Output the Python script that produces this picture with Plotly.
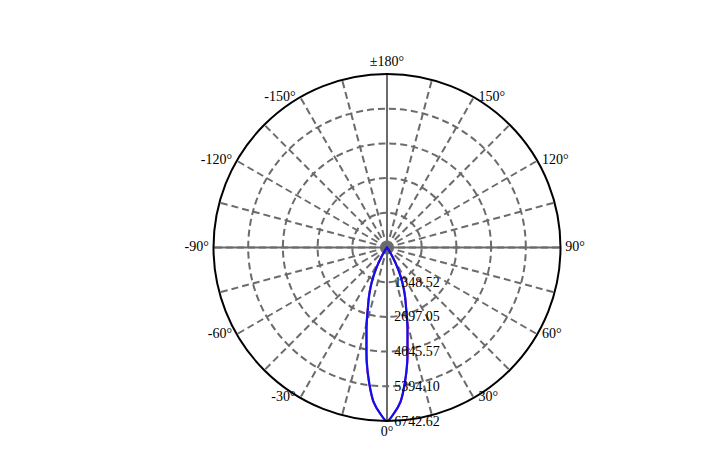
import plotly.graph_objects as go

# Polar angles (deg) and luminous intensity values
angles = [-180, -90, -45, -40, -37.5, -35, -32.5, -30, -27.5, -25, -22.5, -20, -17.5, -15,
          -12.5, -10, -7.5, -5, -2.5, 0, 2.5, 5, 7.5, 10, 12.5, 15, 17.5, 20, 22.5, 25,
          27.5, 30, 32.5, 35, 37.5, 40, 45, 90, 180]
c0_values = [0, 0, 0, 12, 45, 120, 260, 520, 900, 1290, 1690, 2080, 2490, 3080,
             3700, 4550, 5320, 6030, 6440, 6742.62, 6440, 6030, 5320, 4550, 3700, 3080, 2490, 2080, 1690, 1290,
             900, 520, 260, 120, 45, 12, 0, 0, 0]
c90_values = [0, 0, 0, 10, 40, 110, 250, 500, 880, 1270, 1660, 2050, 2460, 3050,
              3670, 4520, 5300, 6010, 6430, 6742.62, 6430, 6010, 5300, 4520, 3670, 3050, 2460, 2050, 1660, 1270,
              880, 500, 250, 110, 40, 10, 0, 0, 0]

r_max = 6742.62
radial_ticks = [1348.52, 2697.05, 4045.57, 5394.10, 6742.62]
radial_labels = ["1348.52", "2697.05", "4045.57", "5394.10", "6742.62"]

grid_angles = list(range(0, 360, 15))
label_angles = [0, 30, 60, 90, 120, 150, 180, 210, 240, 270, 300, 330]
label_texts = ["0°", "30°", "60°", "90°", "120°", "150°", "±180°",
               "-150°", "-120°", "-90°", "-60°", "-30°"]

main_axes = [0, 90]  # solid diameters

font = dict(family="Liberation Serif, Times New Roman, serif", size=14, color="black")


def label_position(a):
    if a == 0:
        return "bottom center"
    if a == 180:
        return "top center"
    return "middle right" if a < 180 else "middle left"


fig = go.Figure()

for a in main_axes:
    fig.add_trace(go.Scatterpolar(
        r=[r_max, 0, r_max], theta=[a, a, a + 180], mode="lines",
        line=dict(color="#6b6b6b", width=2), hoverinfo="skip", showlegend=False))

fig.add_trace(go.Scatterpolar(
    r=c0_values, theta=angles, mode="lines",
    line=dict(color="#c0157a", width=2, shape="spline"), showlegend=False, name="C0-C180"))
fig.add_trace(go.Scatterpolar(
    r=c90_values, theta=angles, mode="lines",
    line=dict(color="#1010ee", width=2.2, shape="spline"), showlegend=False, name="C90-C270"))

# angular tick labels
fig.add_trace(go.Scatterpolar(
    r=[r_max] * len(label_angles), theta=label_angles, mode="markers+text",
    text=label_texts, textposition=[label_position(a) for a in label_angles],
    textfont=font, marker=dict(size=6, color="rgba(0,0,0,0)"),
    cliponaxis=False, hoverinfo="skip", showlegend=False))

fig.update_layout(
    width=716, height=455,
    paper_bgcolor="white",
    margin=dict(l=42, r=0, t=66, b=42),
    font=font,
    showlegend=False,
    polar=dict(
        bgcolor="white",
        angularaxis=dict(
            rotation=-90, direction="counterclockwise",
            tickmode="array", tickvals=grid_angles, showticklabels=False,
            ticks="", showline=True, linecolor="black", linewidth=2,
            showgrid=True, gridcolor="#6b6b6b", gridwidth=2, griddash="7px,4px",
        ),
        radialaxis=dict(
            range=[0, r_max], angle=-90, tickangle=-90, side="counterclockwise",
            tickmode="array", tickvals=radial_ticks, ticktext=radial_labels,
            ticks="outside", ticklen=4, tickcolor="rgba(0,0,0,0)", showline=False,
            showgrid=True, gridcolor="#6b6b6b", gridwidth=2, griddash="7px,4px",
            tickfont=font, layer="above traces",
        ),
    ),
)

fig.write_html("out.html")
